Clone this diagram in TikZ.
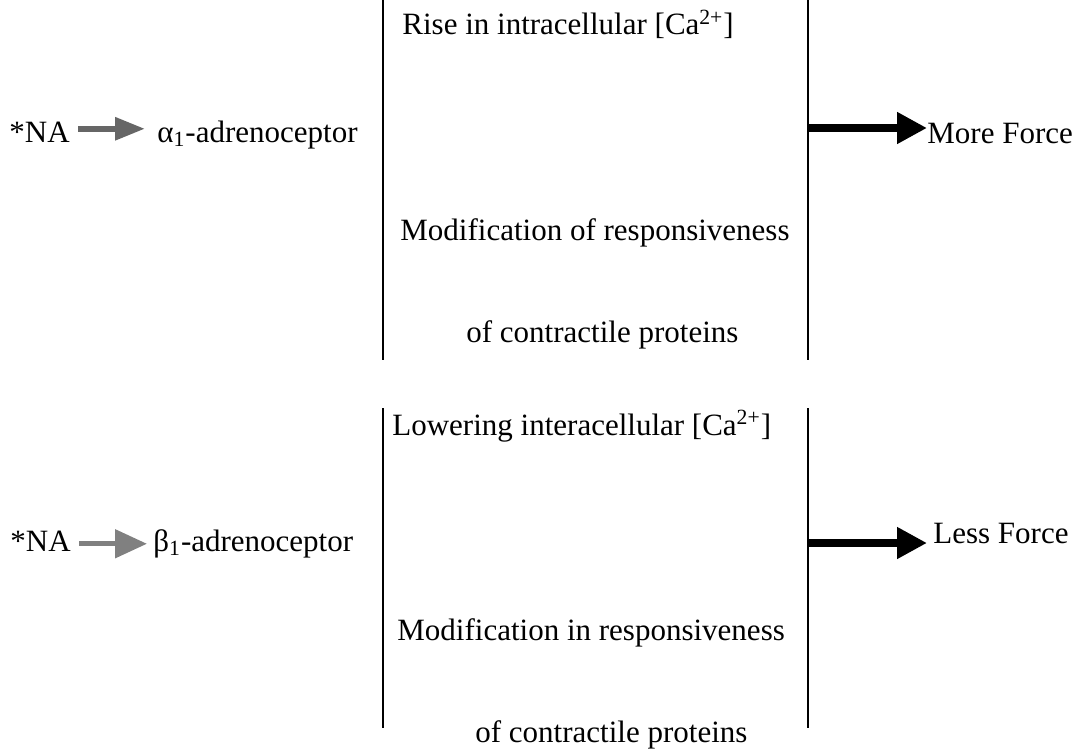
\documentclass[tikz,border=0pt]{standalone}
\usepackage{fontspec}
\setmainfont{Liberation Serif}
\usetikzlibrary{arrows.meta}

\tikzset{
	txt/.style={inner sep=0pt, anchor=base west, font=\fontsize{15.5}{18}\selectfont},
	barline/.style={line width=1pt},
	grayarrow/.style={line width=3pt, color=black!60, -{Triangle[length=15pt, width=11pt]}},
	thinarrow/.style={line width=2.5pt, color=black!50, -{Triangle[length=16pt, width=14pt]}},
	forcearrow/.style={line width=3.75pt, -{Triangle[length=15pt, width=15pt]}},
}

\begin{document}
\begin{tikzpicture}[x=0.5pt, y=-0.5pt]
			%%%%% START %%%%%
			\useasboundingbox (0, 0) rectangle (1085, 749);
			
			% upper panel
			\draw[barline] (383, 0) -- (383, 360);
			\draw[barline] (808, 0) -- (808, 360);
			
			\node[txt] (na1) at (9, 142) {*NA};
			\node[txt] (alpha) at (157, 142) {α\textsubscript{1}-adrenoceptor};
			\draw[grayarrow, shorten <=4pt, shorten >=6pt] ([yshift=1.5pt]na1.east) -- ([yshift=1.5pt]na1.east -| alpha.west);
			
			\node[txt] (rise) at (402, 35) {Rise in intracellular [Ca\textsuperscript{2+}]};
			\node[txt] (modtop) at (400, 240) {Modification of responsiveness};
			\node[txt] (cptop) at (466, 342) {of contractile proteins};
			
			\coordinate (r1) at (808, 128);
			\node[txt] (more) at (927, 143) {More Force};
			\draw[forcearrow] (r1) -- (r1 -| more.west);
			
			% lower panel
			\draw[barline] (383, 408) -- (383, 728);
			\draw[barline] (808, 408) -- (808, 728);
			
			\node[txt] (na2) at (10, 551) {*NA};
			\node[txt] (beta) at (153, 551) {β\textsubscript{1}-adrenoceptor};
			\draw[thinarrow, shorten <=4pt, shorten >=3pt] ([yshift=-1.5pt]na2.east) -- ([yshift=-1.5pt]na2.east -| beta.west);
			
			\node[txt] (lower) at (392, 435) {Lowering interacellular [Ca\textsuperscript{2+}]};
			\node[txt] (modbot) at (397, 640) {Modification in responsiveness};
			\node[txt] (cpbot) at (475, 742) {of contractile proteins};
			
			\coordinate (r2) at (808, 543);
			\node[txt] (less) at (933, 543) {Less Force};
			\draw[forcearrow, shorten >=3pt] (r2) -- (r2 -| less.west);
			
			%%%%% END %%%%%
		\end{tikzpicture}
\end{document}
